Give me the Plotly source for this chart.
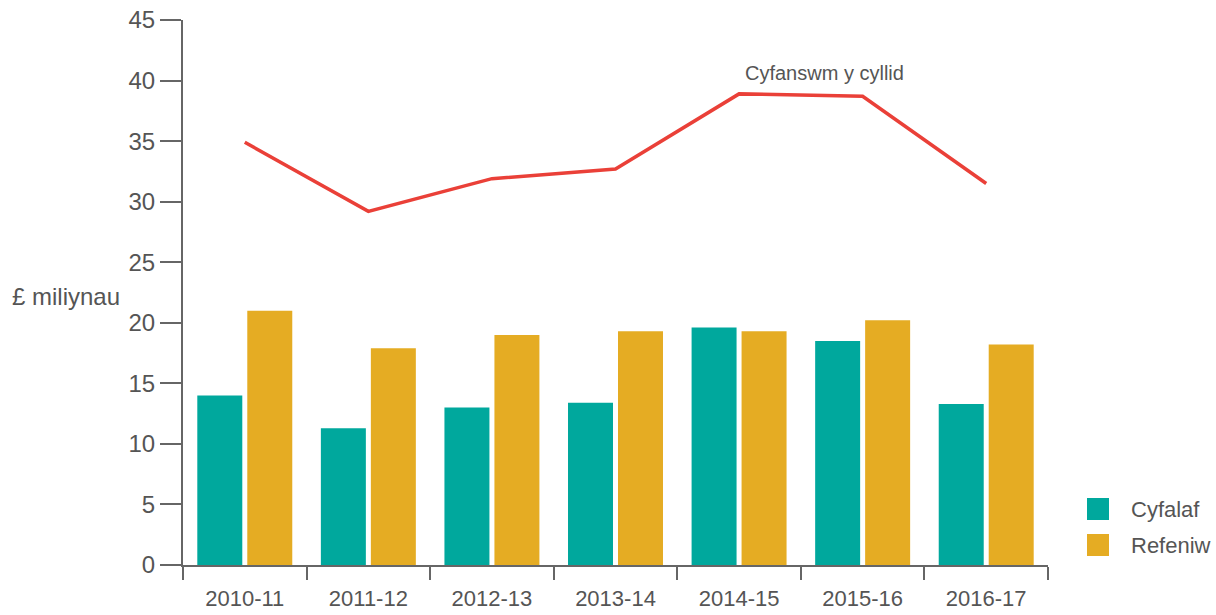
import plotly.graph_objects as go

years = ["2010-11", "2011-12", "2012-13", "2013-14", "2014-15", "2015-16", "2016-17"]
cyfalaf = [14.0, 11.3, 13.0, 13.4, 19.6, 18.5, 13.3]
refeniw = [21.0, 17.9, 19.0, 19.3, 19.3, 20.2, 18.2]
cyfanswm = [34.9, 29.2, 31.9, 32.7, 38.9, 38.7, 31.5]

TEAL = "rgb(0,168,157)"
GOLD = "rgb(229,172,35)"
RED = "rgb(234,64,56)"
AXIS = "#666666"
TXT = "#555555"
FONT = "Liberation Sans, Arial, sans-serif"

fig = go.Figure()
fig.add_trace(go.Bar(x=years, y=cyfalaf, name="Cyfalaf", marker_color=TEAL,
                     marker_line_width=0, showlegend=False))
fig.add_trace(go.Bar(x=years, y=refeniw, name="Refeniw", marker_color=GOLD,
                     marker_line_width=0, showlegend=False))
fig.add_trace(go.Scatter(x=years, y=cyfanswm, name="Cyfanswm y cyllid", mode="lines",
                         line=dict(color=RED, width=3.5), showlegend=False))

fig.update_layout(
    width=1216, height=615,
    margin=dict(l=183, r=168, t=20, b=50),
    paper_bgcolor="white", plot_bgcolor="white",
    barmode="group", bargap=0.191, bargroupgap=0.1,
    font=dict(family=FONT, color=TXT),
    xaxis=dict(type="category", showline=True, linecolor=AXIS, linewidth=2, ticks="outside",
               tickson="boundaries", ticklen=13, tickwidth=2, tickcolor=AXIS,
               ticklabelstandoff=13,
               tickfont=dict(size=22, color=TXT), showgrid=False, zeroline=False, automargin=False),
    yaxis=dict(range=[0, 45], dtick=5, showline=True, linecolor=AXIS, linewidth=2,
               ticks="outside", ticklen=21, tickwidth=2, tickcolor=AXIS,
               tickfont=dict(size=24, color=TXT), showgrid=False, zeroline=False, automargin=False),
)

# line label
fig.add_annotation(x=4.69, y=40.6, xref="x", yref="y", text="Cyfanswm y cyllid", showarrow=False,
                   font=dict(size=20, color=TXT, family=FONT))
# y axis title
fig.add_annotation(x=-0.2, y=0.492, xref="paper", yref="paper", xanchor="left", yanchor="middle",
                   text="£ miliynau", showarrow=False, font=dict(size=24, color=TXT, family=FONT))

# legend (manual, to match large swatches)
W = 865.0
H = 545.0
def px(xp):
    return (xp - 183) / W
def py(yp):
    return (565 - yp) / H
for (name, col, ytop) in [("Cyfalaf", TEAL, 498), ("Refeniw", GOLD, 534)]:
    fig.add_shape(type="rect", xref="paper", yref="paper",
                  x0=px(1087), x1=px(1109), y0=py(ytop + 22), y1=py(ytop),
                  fillcolor=col, line=dict(width=0))
    fig.add_annotation(x=px(1129), y=py(ytop + 11), xref="paper", yref="paper",
                       xanchor="left", yanchor="middle", text=name, showarrow=False,
                       font=dict(size=22, color=TXT, family=FONT))

fig.write_html("out.html", config={"displayModeBar": False},
               post_script="document.body.style.margin='0';document.body.style.overflow='hidden';")
